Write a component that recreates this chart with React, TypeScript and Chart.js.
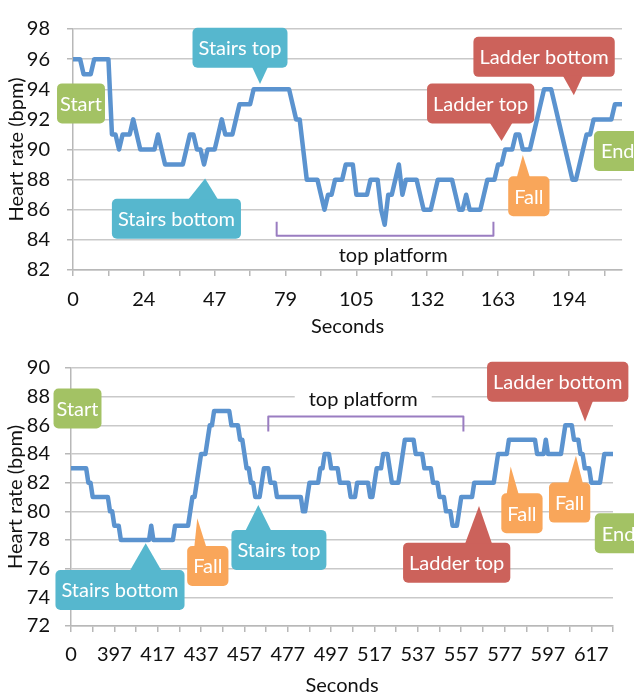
import React, { useEffect, useRef } from 'react';
import { Chart, registerables } from 'chart.js';

Chart.register(...registerables);

const FONT_FAMILY = 'Lato, "Open Sans", "DejaVu Sans", sans-serif';
const FONT_SIZE = 20;

// ---------- data: first recording ----------
const topTickLabels = ['0', '24', '47', '79', '105', '132', '163', '194'];
const topHeartRate = [
  96, 96, 96, 95, 95, 95, 96, 96, 96, 96,
  96, 91, 91, 90, 91, 91, 91, 92, 91, 90,
  90, 90, 90, 90, 91, 90, 89, 89, 89, 89,
  89, 89, 90, 91, 91, 90, 90, 89, 90, 90,
  90, 91, 92, 91, 91, 91, 92, 93, 93, 93,
  93, 94, 94, 94, 94, 94, 94, 94, 94, 94,
  94, 94, 93, 92, 92, 90, 88, 88, 88, 88,
  87, 86, 87, 87, 88, 88, 88, 89, 89, 89,
  87, 87, 87, 87, 88, 88, 88, 86, 85, 87,
  87, 88, 89, 87, 88, 88, 88, 88, 87, 86,
  86, 86, 87, 88, 88, 88, 88, 88, 87, 86,
  86, 87, 86, 86, 86, 86, 87, 88, 88, 88,
  89, 89, 90, 90, 90, 91, 91, 90, 90, 90,
  91, 92, 93, 94, 94, 94, 93, 92, 91, 90,
  89, 88, 88, 89, 90, 91, 91, 92, 92, 92,
  92, 92, 92, 93, 93, 93,
];

// ---------- data: second recording ----------
const bottomTickLabels = ['0', '397', '417', '437', '457', '477', '497', '517', '537', '557', '577', '597', '617'];
const bottomHeartRate = [
  83, 83, 83, 83, 83, 83, 83, 83, 82, 82,
  81, 81, 81, 81, 81, 81, 81, 81, 80, 80,
  79, 79, 79, 78, 78, 78, 78, 78, 78, 78,
  78, 78, 78, 78, 78, 78, 78, 79, 78, 78,
  78, 78, 78, 78, 78, 78, 78, 78, 79, 79,
  79, 79, 79, 79, 79, 80, 81, 81, 82, 83,
  84, 84, 84, 85, 86, 86, 87, 87, 87, 87,
  87, 87, 87, 87, 86, 86, 86, 86, 85, 85,
  84, 83, 83, 82, 82, 81, 81, 81, 82, 83,
  83, 83, 82, 82, 82, 81, 81, 81, 81, 81,
  81, 81, 81, 81, 81, 81, 81, 80, 80, 81,
  82, 82, 82, 82, 82, 83, 83, 84, 84, 84,
  83, 83, 83, 83, 82, 82, 82, 82, 82, 81,
  81, 81, 82, 82, 82, 82, 82, 82, 81, 81,
  82, 83, 83, 83, 84, 84, 84, 83, 82, 82,
  82, 82, 83, 84, 85, 85, 85, 85, 85, 84,
  84, 84, 84, 83, 83, 83, 83, 82, 82, 82,
  81, 81, 81, 80, 80, 80, 79, 79, 79, 80,
  81, 81, 81, 81, 81, 81, 82, 82, 82, 82,
  82, 82, 82, 82, 82, 82, 83, 84, 84, 84,
  84, 84, 85, 85, 85, 85, 85, 85, 85, 85,
  85, 85, 85, 85, 85, 84, 84, 84, 84, 85,
  84, 84, 84, 84, 84, 84, 84, 85, 86, 86,
  86, 86, 85, 85, 85, 84, 84, 83, 83, 83,
  82, 82, 82, 82, 82, 83, 84, 84, 84, 84,
  84,
];

// ---------- styles ----------
const LINE_COLOR = '#5b93cf';
const GRID_COLOR = '#c9c9c9';
const AXIS_COLOR = '#b8b8b8';
const TEXT_COLOR = '#111111';
const GREEN = '#a3c264';
const CYAN = '#56b7ce';
const RED = '#cc625b';
const ORANGE = '#f9a65a';
const PURPLE = '#9a7dc1';

type Callout = {
  text: string;
  color: string;
  at: [number, number]; // box centre, data units (index, bpm)
  tip?: [number, number]; // pointer tip, data units
  base?: [number, number]; // pointer base offsets from tip x, px
  padX?: number;
};

type Bracket = {
  from: number;
  to: number;
  bar: number;
  arm: number;
  label: string;
  labelAt: [number, number];
  labelBg: boolean;
};

const topCallouts: Callout[] = [
  { text: 'Start', color: GREEN, at: [2.26, 93.06], padX: 3 },
  { text: 'Stairs top', color: CYAN, at: [47.15, 96.75], tip: [52.8, 94.35], base: [-8, 8] },
  { text: 'Stairs bottom', color: CYAN, at: [29.2, 85.4], tip: [37.3, 88.07], base: [-17, 13] },
  { text: 'Ladder top', color: RED, at: [115.1, 93.05], tip: [121.0, 90.57], base: [-12, 11] },
  { text: 'Ladder bottom', color: RED, at: [133.0, 96.15], tip: [141.4, 93.6], base: [-11, 9] },
  { text: 'Fall', color: ORANGE, at: [128.7, 86.9], tip: [127.0, 89.64], base: [-6, 7] },
  { text: 'End', color: GREEN, at: [153.8, 89.9], padX: 7 },
];

const bottomCallouts: Callout[] = [
  { text: 'Start', color: GREEN, at: [3.0, 87.17], padX: 3 },
  { text: 'Stairs bottom', color: CYAN, at: [22.6, 74.51], tip: [34.45, 77.78], base: [-16, 16] },
  { text: 'Fall', color: ORANGE, at: [63.1, 76.19], tip: [58.25, 79.52], base: [-3, 9] },
  { text: 'Stairs top', color: CYAN, at: [95.9, 77.31], tip: [86.4, 80.45], base: [-13, 13] },
  { text: 'Ladder top', color: RED, at: [177.9, 76.42], tip: [188.2, 80.38], base: [-14, 13] },
  { text: 'Fall', color: ORANGE, at: [208.0, 79.87], tip: [202.8, 83.12], base: [-4, 8] },
  { text: 'Fall', color: ORANGE, at: [230.0, 80.61], tip: [232.9, 83.87], base: [-8, 7] },
  { text: 'Ladder bottom', color: RED, at: [224.5, 89.04], tip: [237.1, 86.27], base: [-8, 8] },
  { text: 'End', color: GREEN, at: [252.6, 78.47], padX: 7 },
];

const topBracket: Bracket = {
  from: 57.5, to: 118.7, bar: 84.27, arm: 85.2,
  label: 'top platform', labelAt: [90.4, 82.93], labelBg: false,
};
const bottomBracket: Bracket = {
  from: 91.0, to: 181.0, bar: 86.62, arm: 85.57,
  label: 'top platform', labelAt: [134.8, 87.83], labelBg: true,
};

type PanelSpec = {
  values: number[];
  tickLabels: string[];
  yMin: number;
  yMax: number;
  width: number;
  height: number;
  padding: { top: number; right: number; bottom: number; left: number };
  yAxisWidth: number;
  xAxisHeight: number;
  yTickPad: number;
  xTickPad: number;
  yTitlePad: number;
  xTitlePad: number;
  callouts: Callout[];
  bracket: Bracket;
};

const font = (size = FONT_SIZE) => `${size}px ${FONT_FAMILY}`;

function drawAnnotations(chart: any, spec: PanelSpec) {
  const ctx: CanvasRenderingContext2D = chart.ctx;
  const xs = chart.scales.x;
  const ys = chart.scales.y;
  const px = (i: number) => xs.getPixelForValue(i);
  const py = (v: number) => ys.getPixelForValue(v);
  ctx.save();

  // bracket
  const b = spec.bracket;
  ctx.strokeStyle = PURPLE;
  ctx.lineWidth = 2;
  ctx.lineJoin = 'round';
  ctx.beginPath();
  ctx.moveTo(px(b.from), py(b.arm));
  ctx.lineTo(px(b.from), py(b.bar));
  ctx.lineTo(px(b.to), py(b.bar));
  ctx.lineTo(px(b.to), py(b.arm));
  ctx.stroke();

  ctx.font = font();
  ctx.textAlign = 'center';
  ctx.textBaseline = 'middle';
  const lx = px(b.labelAt[0]);
  const ly = py(b.labelAt[1]);
  if (b.labelBg) {
    const w = ctx.measureText(b.label).width + 28;
    ctx.fillStyle = '#ffffff';
    ctx.fillRect(lx - w / 2, ly - 12, w, 24);
  }
  ctx.fillStyle = TEXT_COLOR;
  ctx.fillText(b.label, lx, ly);

  // callouts
  const h = 40;
  for (const c of spec.callouts) {
    ctx.font = font();
    const tw = ctx.measureText(c.text).width;
    const pad = c.padX ?? 6;
    const w = tw + pad * 2;
    const cx = px(c.at[0]);
    const cy = py(c.at[1]);
    const left = cx - w / 2;
    const top = cy - h / 2;
    ctx.fillStyle = c.color;
    ctx.beginPath();
    ctx.roundRect(left, top, w, h, 5);
    ctx.fill();
    if (c.tip && c.base) {
      const tx = px(c.tip[0]);
      const ty = py(c.tip[1]);
      const edge = ty > top + h ? top + h - 1 : top + 1;
      ctx.beginPath();
      ctx.moveTo(tx + c.base[0], edge);
      ctx.lineTo(tx, ty);
      ctx.lineTo(tx + c.base[1], edge);
      ctx.closePath();
      ctx.fill();
    }
    ctx.fillStyle = '#ffffff';
    ctx.textAlign = 'center';
    ctx.textBaseline = 'middle';
    ctx.fillText(c.text, cx, cy + 1);
  }
  ctx.restore();
}

function Panel({ spec }: { spec: PanelSpec }) {
  const ref = useRef<HTMLCanvasElement | null>(null);
  useEffect(() => {
    const canvas = ref.current;
    if (!canvas) return;
    const axisMax = spec.values.length - 1;
    const tickValues: number[] = [];
    for (let v = 0; v <= axisMax; v += 10) tickValues.push(v);
    const tickFont = { family: FONT_FAMILY, size: FONT_SIZE };

    const chart = new Chart(canvas, {
      type: 'line',
      data: {
        datasets: [
          {
            data: spec.values.map((y, x) => ({ x, y })),
            borderColor: LINE_COLOR,
            borderWidth: 4.5,
            pointRadius: 0,
            tension: 0,
            fill: false,
            borderJoinStyle: 'round',
            borderCapStyle: 'round',
          },
        ],
      },
      options: {
        animation: false,
        responsive: false,
        devicePixelRatio: 1,
        events: [],
        layout: { padding: spec.padding },
        plugins: { legend: { display: false }, tooltip: { enabled: false } },
        scales: {
          x: {
            type: 'linear',
            min: 0,
            max: axisMax,
            afterBuildTicks: (s: any) => {
              s.ticks = tickValues.map((value) => ({ value }));
            },
            afterFit: (s: any) => {
              s.height = spec.xAxisHeight;
            },
            ticks: {
              autoSkip: false,
              maxRotation: 0,
              minRotation: 0,
              padding: spec.xTickPad,
              color: TEXT_COLOR,
              font: tickFont,
              callback: (value: any) => {
                const n = Number(value);
                return n % 20 === 0 ? spec.tickLabels[n / 20] ?? '' : '';
              },
            },
            grid: {
              drawOnChartArea: false,
              drawTicks: true,
              tickLength: 6,
              color: AXIS_COLOR,
              lineWidth: 1.5,
            },
            border: { display: true, color: AXIS_COLOR, width: 1.5 },
            title: {
              display: true,
              text: 'Seconds',
              color: TEXT_COLOR,
              font: tickFont,
              padding: { top: 0, bottom: spec.xTitlePad },
            },
          },
          y: {
            type: 'linear',
            min: spec.yMin,
            max: spec.yMax,
            afterFit: (s: any) => {
              s.width = spec.yAxisWidth;
            },
            ticks: {
              stepSize: 2,
              padding: spec.yTickPad,
              color: TEXT_COLOR,
              font: tickFont,
            },
            grid: {
              color: GRID_COLOR,
              lineWidth: 1.5,
              drawTicks: true,
              tickLength: 6,
              tickColor: AXIS_COLOR,
            },
            border: { display: true, color: AXIS_COLOR, width: 1.5 },
            title: {
              display: true,
              text: 'Heart rate (bpm)',
              color: TEXT_COLOR,
              font: tickFont,
              padding: { top: spec.yTitlePad, bottom: 0 },
            },
          },
        },
      } as any,
      plugins: [
        {
          id: 'callouts',
          afterDraw: (c: any) => drawAnnotations(c, spec),
        },
      ],
    });
    return () => chart.destroy();
  }, [spec]);

  return (
    <canvas
      ref={ref}
      width={spec.width}
      height={spec.height}
      style={{ display: 'block', width: spec.width, height: spec.height }}
    />
  );
}

const topSpec: PanelSpec = {
  values: topHeartRate,
  tickLabels: topTickLabels,
  yMin: 82,
  yMax: 98,
  width: 634,
  height: 340,
  padding: { top: 12, right: 12, bottom: 0, left: 0 },
  yAxisWidth: 73,
  xAxisHeight: 70,
  yTickPad: 17,
  xTickPad: 12,
  yTitlePad: 5,
  xTitlePad: 1,
  callouts: topCallouts,
  bracket: topBracket,
};

const bottomSpec: PanelSpec = {
  values: bottomHeartRate,
  tickLabels: bottomTickLabels,
  yMin: 72,
  yMax: 90,
  width: 634,
  height: 358,
  padding: { top: 28, right: 21, bottom: 0, left: 0 },
  yAxisWidth: 71,
  xAxisHeight: 72,
  yTickPad: 15,
  xTickPad: 10.7,
  yTitlePad: 3.8,
  xTitlePad: 0.5,
  callouts: bottomCallouts,
  bracket: bottomBracket,
};

export default function App() {
  return (
    <div style={{ position: 'absolute', left: 0, top: 0, width: 634, height: 698, background: '#ffffff' }}>
      <Panel spec={topSpec} />
      <Panel spec={bottomSpec} />
    </div>
  );
}
